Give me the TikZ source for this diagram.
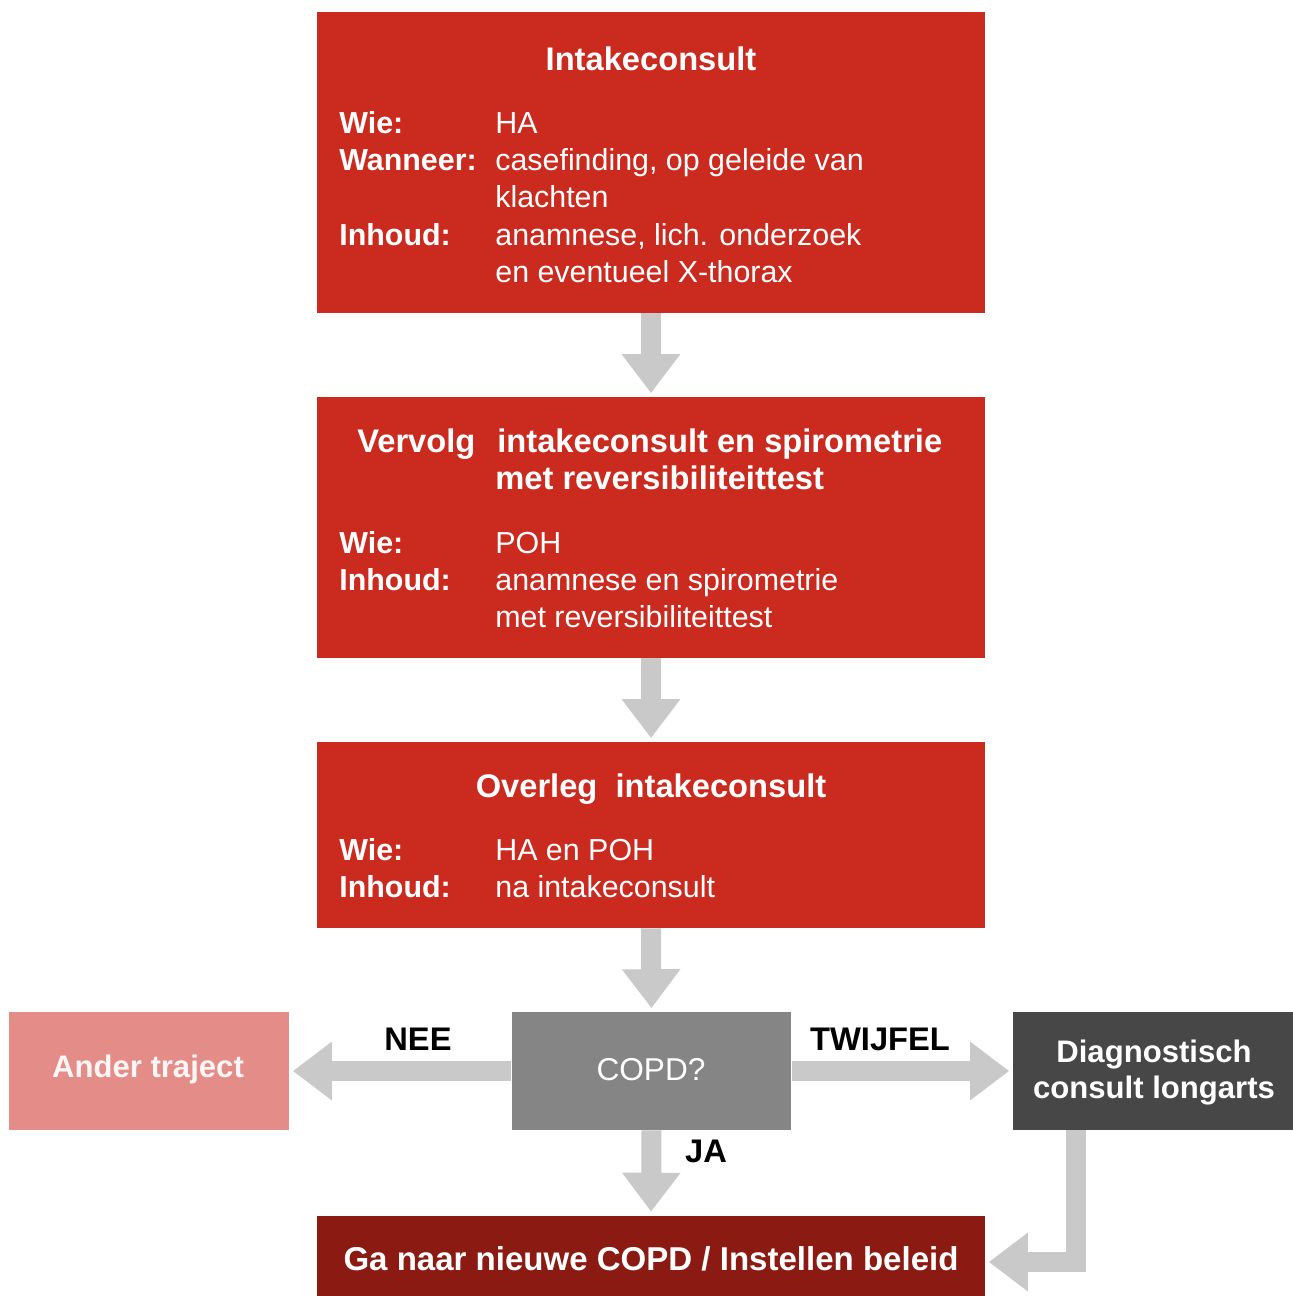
\documentclass[tikz,border=0pt]{standalone}
\usepackage{fontspec}
\setmainfont{Liberation Sans}
\usetikzlibrary{arrows.meta}
\definecolor{boxred}{HTML}{CB2A1F}
\definecolor{boxpink}{HTML}{E48C87}
\definecolor{boxgray}{HTML}{858585}
\definecolor{boxdark}{HTML}{474747}
\definecolor{boxdeep}{HTML}{8A1A12}
\definecolor{arrgray}{HTML}{C9C9C9}
\tikzset{
  blk/.style={draw=none, inner sep=0pt, minimum width=#1},
  stdbox/.style={blk=13.36cm, fill=boxred},
  sidebox/.style={blk=5.6cm, minimum height=2.36cm},
  body/.style={anchor=base west, inner sep=0pt, text=white, font=\fontsize{17.3}{21}\selectfont},
  lbl/.style={body, font=\fontsize{17.3}{21}\selectfont\bfseries},
  ttl/.style={anchor=base, inner sep=0pt, text=white, font=\fontsize{18.6}{21}\selectfont\bfseries},
  ans/.style={anchor=base, inner sep=0pt, text=black, font=\fontsize{18.6}{21}\selectfont\bfseries},
  arr/.style={draw=arrgray, line width=0.4cm, -{Triangle[width=1.12cm,length=0.78cm]}, shorten >=0.07cm}
}
\begin{document}
\begin{tikzpicture}[x=0.02cm,y=-0.02cm]
\useasboundingbox (0,0) rectangle (1293,1296);
\fill[white] (0,0) rectangle (1293,1296);
% boxes
\node[stdbox, minimum height=6.02cm] (b1) at (651,162.5) {};
\node[stdbox, minimum height=5.22cm] (b2) at (651,527.5) {};
\node[stdbox, minimum height=3.72cm] (b3) at (651,835) {};
\node[sidebox, fill=boxgray] (copd) at (651.5,1071) {};
\node[sidebox, fill=boxpink] (ander) at (149,1071) {};
\node[sidebox, fill=boxdark] (diag) at (1153,1071) {};
\node[blk=13.36cm, minimum height=1.7cm, fill=boxdeep] (bot) at (651,1258) {};
% box 1 texts
\node[ttl] (t1) at (651,70) {Intakeconsult};
\node[lbl] (l1a) at (339,133) {Wie:};
\node[body] (v1a) at (495,133) {HA};
\node[lbl] (l1b) at (339,170) {Wanneer:};
\node[body] (v1b) at (495,170) {casefinding, op geleide van};
\node[body] (v1c) at (495,207) {klachten};
\node[lbl] (l1c) at (339,245) {Inhoud:};
\node[body] (v1d) at (495,245) {anamnese, lich. onderzoek};
\node[body] (v1e) at (495,282) {en eventueel X-thorax};
% box 2 texts
\node[ttl, anchor=base west] (t2a) at (357,452) {Vervolg};
\node[ttl, anchor=base west] (t2b) at (497,452) {intakeconsult en spirometrie};
\node[ttl, anchor=base west] (t2c) at (495,489) {met reversibiliteittest};
\node[lbl] (l2a) at (339,553) {Wie:};
\node[body] (v2a) at (495,553) {POH};
\node[lbl] (l2b) at (339,590) {Inhoud:};
\node[body] (v2b) at (495,590) {anamnese en spirometrie};
\node[body] (v2c) at (495,627) {met reversibiliteittest};
% box 3 texts
\node[ttl] (t3) at (651,797) {Overleg\ \ intakeconsult};
\node[lbl] (l3a) at (339,860) {Wie:};
\node[body] (v3a) at (495,860) {HA en POH};
\node[lbl] (l3b) at (339,897) {Inhoud:};
\node[body] (v3b) at (495,897) {na intakeconsult};
% lower boxes texts
\node[ttl, font=\fontsize{18}{21}\selectfont] (tc) at (651,1080) {COPD?};
\node[ttl, font=\fontsize{17.7}{21}\selectfont\bfseries, text=white!92!boxpink] (ta) at (148,1077) {Ander traject};
\node[ttl, font=\fontsize{17.7}{21}\selectfont\bfseries] (td1) at (1154,1062) {Diagnostisch};
\node[ttl, font=\fontsize{17.7}{21}\selectfont\bfseries] (td2) at (1154,1098) {consult longarts};
\node[ttl, font=\fontsize{18.8}{21}\selectfont\bfseries] (tb) at (651,1270) {Ga naar nieuwe COPD / Instellen beleid};
% connectors
\draw[arr] (b1.south) -- (b2.north);
\draw[arr] (b2.south) -- (b3.north);
\draw[arr] (b3.south) -- (copd.north);
\draw[arr] (copd.west) -- (ander.east);
\draw[arr] (copd.east) -- (diag.west);
\draw[arr] (copd.south) -- (bot.north);
\coordinate (cr) at (1076,1262);
\draw[arr] (diag.south -| cr) -- (cr) -- (bot.east |- cr);
% answer labels
\node[ans] (nee) at (418,1050) {NEE};
\node[ans] (twijfel) at (880,1050) {TWIJFEL};
\node[ans] (ja) at (706,1162) {JA};
\end{tikzpicture}
\end{document}
